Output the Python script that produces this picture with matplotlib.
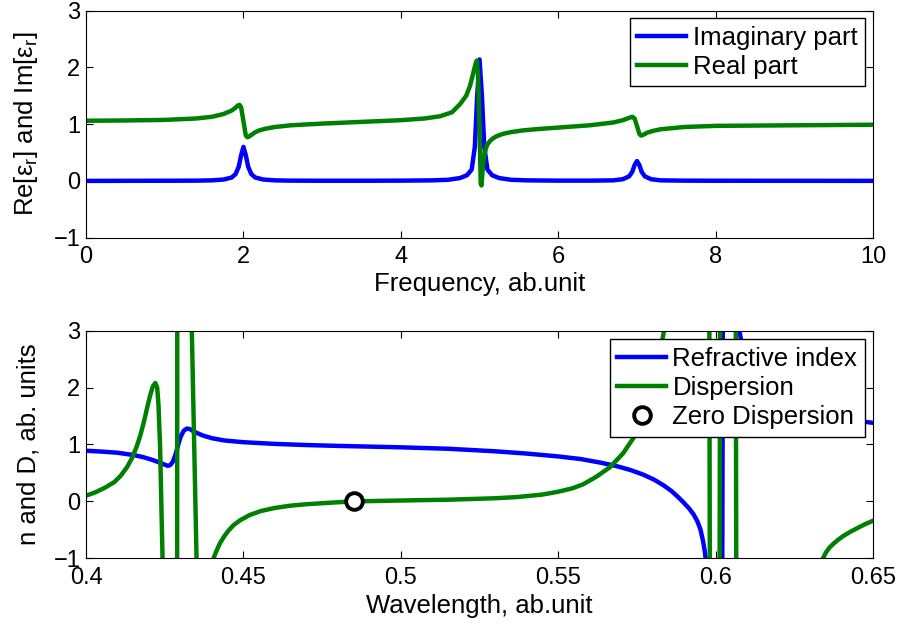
import matplotlib
matplotlib.use("Agg")
import matplotlib.pyplot as plt

plt.rcParams['font.family'] = ['Liberation Sans', 'DejaVu Sans']
plt.rcParams['mathtext.fontset'] = 'custom'
plt.rcParams['mathtext.rm'] = 'Liberation Sans'

# top panel: permittivity vs frequency
freq_im = [0.0, 0.5, 1.0, 1.4, 1.6, 1.75, 1.85, 1.9, 1.94, 1.97, 2.0, 2.03, 2.06, 2.1, 2.15,
           2.25, 2.4, 2.6, 3.0, 3.5, 4.0, 4.4, 4.6, 4.75, 4.84, 4.9, 4.94, 4.97, 5.0, 5.03,
           5.06, 5.1, 5.16, 5.25, 5.4, 5.6, 6.0, 6.4, 6.7, 6.82, 6.9, 6.94, 6.97, 7.0, 7.03,
           7.06, 7.1, 7.18, 7.3, 7.6, 8.0, 9.0, 10.0]
im_part = [0.0, 0.002, 0.003, 0.005, 0.01, 0.025, 0.06, 0.12, 0.25, 0.45, 0.6, 0.45, 0.25, 0.12, 0.06,
           0.025, 0.01, 0.005, 0.003, 0.003, 0.005, 0.01, 0.02, 0.05, 0.1, 0.2, 0.6, 1.5, 2.14, 1.5,
           0.6, 0.2, 0.1, 0.05, 0.02, 0.01, 0.005, 0.005, 0.01, 0.03, 0.08, 0.16, 0.28, 0.35, 0.28,
           0.16, 0.08, 0.03, 0.01, 0.005, 0.003, 0.002, 0.001]

freq_re = [0.0, 0.5, 1.0, 1.4, 1.6, 1.75, 1.85, 1.9, 1.93, 1.95, 1.97, 2.0, 2.03, 2.05, 2.07,
           2.1, 2.14, 2.2, 2.28, 2.4, 2.6, 3.0, 3.5, 4.0, 4.3, 4.5, 4.65, 4.75, 4.83, 4.88,
           4.92, 4.95, 4.965, 4.98, 5.0, 5.015, 5.025, 5.035, 5.045, 5.06, 5.08, 5.1, 5.13, 5.17,
           5.22, 5.3, 5.4, 5.55, 5.75, 6.0, 6.4, 6.7, 6.82, 6.9, 6.94, 6.97, 7.0, 7.03, 7.05,
           7.06, 7.09, 7.13, 7.2, 7.3, 7.45, 7.6, 8.0, 9.0, 10.0]
re_part = [1.06, 1.065, 1.075, 1.1, 1.13, 1.18, 1.24, 1.29, 1.33, 1.34, 1.3, 1.05, 0.8, 0.77, 0.78,
           0.81, 0.85, 0.89, 0.92, 0.95, 0.98, 1.01, 1.04, 1.07, 1.1, 1.14, 1.21, 1.35, 1.5, 1.68,
           1.9, 2.07, 2.12, 1.9, 0.9, -0.05, -0.08, 0.12, 0.3, 0.45, 0.57, 0.64, 0.7, 0.75,
           0.79, 0.83, 0.86, 0.89, 0.915, 0.94, 0.98, 1.03, 1.07, 1.11, 1.13, 1.1, 0.97, 0.83, 0.8,
           0.8, 0.82, 0.85, 0.88, 0.91, 0.93, 0.95, 0.97, 0.98, 0.99]

# bottom panel: refractive index and dispersion vs wavelength
wl_n = [0.4, 0.405, 0.41, 0.415, 0.418, 0.421, 0.4235, 0.425, 0.426, 0.4268, 0.4276, 0.4284,
        0.4292, 0.43, 0.431, 0.432, 0.433, 0.4345, 0.437, 0.44, 0.444, 0.45, 0.46, 0.47, 0.48,
        0.5, 0.515, 0.53, 0.54, 0.55, 0.557, 0.5635, 0.5685, 0.573, 0.577, 0.5805, 0.5835,
        0.586, 0.588, 0.5898, 0.5915, 0.593, 0.5942, 0.5952, 0.596, 0.5966, 0.5972, 0.599,
        0.6019, 0.6024, 0.6045, 0.606, 0.6075, 0.6082, 0.611, 0.615, 0.62, 0.63, 0.64, 0.65]
n_vals = [0.89, 0.875, 0.855, 0.815, 0.78, 0.73, 0.68, 0.645, 0.625, 0.64, 0.7, 0.82,
          0.98, 1.13, 1.24, 1.28, 1.27, 1.22, 1.16, 1.11, 1.07, 1.04, 1.01, 0.99, 0.975,
          0.95, 0.925, 0.88, 0.84, 0.79, 0.745, 0.68, 0.62, 0.55, 0.47, 0.38, 0.28,
          0.18, 0.08, -0.02, -0.12, -0.23, -0.35, -0.5, -0.7, -0.9, -1.2, -3.0,
          -6.0, 6.0, 5.0, 4.5, 3.0, 2.8, 2.3, 2.0, 1.8, 1.55, 1.45, 1.38]

wl_d = [0.4, 0.403, 0.406, 0.409, 0.411, 0.413, 0.4145, 0.416, 0.4172, 0.4183, 0.4193, 0.4203,
        0.4212, 0.422, 0.4226, 0.423, 0.4235, 0.4239, 0.4243, 0.4255, 0.428, 0.4289, 0.429,
        0.431, 0.433, 0.4336, 0.4351, 0.436, 0.438, 0.4405, 0.4415, 0.4425, 0.4437, 0.445,
        0.4468, 0.449, 0.452, 0.4555, 0.46, 0.465, 0.47, 0.4786, 0.485, 0.5, 0.5156, 0.53,
        0.5368, 0.545, 0.55, 0.5545, 0.5579, 0.562, 0.5664, 0.5706, 0.5749, 0.578, 0.581,
        0.5836, 0.586, 0.592, 0.5979, 0.5983, 0.600, 0.6011, 0.6015, 0.604, 0.6063, 0.6067,
        0.615, 0.63, 0.6335, 0.6341, 0.635, 0.6362, 0.6375, 0.639, 0.6405, 0.6426, 0.645,
        0.6475, 0.65]
d_vals = [0.1, 0.16, 0.24, 0.34, 0.45, 0.6, 0.75, 0.95, 1.15, 1.38, 1.62, 1.85,
          2.02, 2.08, 2.0, 1.7, 1.0, 0.0, -1.0, -5.0, -6.0, -6.0, 6.0,
          8.0, 5.0, 3.0, -1.0, -3.0, -3.0, -1.0, -0.86, -0.74, -0.63, -0.53,
          -0.42, -0.33, -0.24, -0.17, -0.115, -0.075, -0.05, -0.02, 0.0, 0.015, 0.03, 0.055,
          0.075, 0.12, 0.17, 0.23, 0.3, 0.43, 0.6, 0.845, 1.2, 1.6, 2.2,
          3.0, 4.0, 8.0, 6.0, -6.0, -8.0, -6.0, 6.0, 8.0, 6.0, -6.0,
          -6.0, -2.0, -1.15, -1.0, -0.9, -0.81, -0.74, -0.67, -0.61, -0.54, -0.47,
          -0.4, -0.34]

zd_wl = [0.485]
zd_val = [0.0]

freq_ticks = [0, 2, 4, 6, 8, 10]
wl_ticks = [0.4, 0.45, 0.5, 0.55, 0.6, 0.65]
wl_labels = ['0.4', '0.45', '0.5', '0.55', '0.6', '0.65']
y_ticks = [-1, 0, 1, 2, 3]

BLUE = '#0000ff'
GREEN = '#008000'
LW = 3.2
FS = 18.5


def style_axes(ax):
    ax.tick_params(direction='in', top=True, right=True, length=5, width=0.8,
                   labelsize=17, colors='k')
    ax.tick_params(axis='x', pad=6)
    ax.tick_params(axis='y', pad=4)
    for s in ax.spines.values():
        s.set_linewidth(0.8)
        s.set_color('k')


fig = plt.figure(figsize=(9.01, 6.23), dpi=100)

## TOP PANEL ##########
ax1 = fig.add_axes([0.0955, 0.6185, 0.8735, 0.3644])
ax1.plot(freq_im, im_part, color=BLUE, lw=LW, label='Imaginary part')
ax1.plot(freq_re, re_part, color=GREEN, lw=LW, label='Real part')
ax1.set_xlim(0, 10)
ax1.set_ylim(-1, 3)
ax1.set_xticks(freq_ticks)
ax1.set_yticks(y_ticks)
style_axes(ax1)
ax1.set_xlabel('Frequency, ab.unit', fontsize=FS, va='top')
ax1.xaxis.set_label_coords(0.5, -0.149)
ax1.set_ylabel(r'Re[ε$_\mathregular{r}$] and Im[ε$_\mathregular{r}$]', fontsize=FS)
ax1.yaxis.set_label_coords(-0.058, 0.5)
leg = ax1.legend(loc='upper right', bbox_to_anchor=(0.9898, 0.968), borderaxespad=0,
                 fontsize=FS, fancybox=False, framealpha=1, edgecolor='k',
                 handlelength=1.9, handletextpad=0.25, borderpad=0.3, labelspacing=0.2)
leg.get_frame().set_linewidth(1.0)

## BOTTOM PANEL ##########
ax2 = fig.add_axes([0.0955, 0.1039, 0.8735, 0.3653])
ax2.plot(wl_n, n_vals, color=BLUE, lw=LW, label='Refractive index')
ax2.plot(wl_d, d_vals, color=GREEN, lw=LW, label='Dispersion')
ax2.plot(zd_wl, zd_val, 'o', color='k', mfc='white', mec='k', ms=12, mew=2.8,
         label='Zero Dispersion', zorder=5)
ax2.set_xlim(0.4, 0.65)
ax2.set_ylim(-1, 3)
ax2.set_xticks(wl_ticks)
ax2.set_xticklabels(wl_labels)
ax2.set_yticks(y_ticks)
style_axes(ax2)
ax2.set_xlabel('Wavelength, ab.unit', fontsize=FS, va='top')
ax2.xaxis.set_label_coords(0.5, -0.156)
ax2.set_ylabel('n and D, ab. units', fontsize=FS)
ax2.yaxis.set_label_coords(-0.058, 0.5)
leg2 = ax2.legend(loc='upper right', bbox_to_anchor=(0.9898, 0.962), borderaxespad=0,
                  fontsize=FS, fancybox=False, framealpha=1, edgecolor='k', numpoints=1,
                  handlelength=1.9, handletextpad=0.25, borderpad=0.3, labelspacing=0.2)
leg2.get_frame().set_linewidth(1.0)

fig.savefig('out.png', dpi=100)
